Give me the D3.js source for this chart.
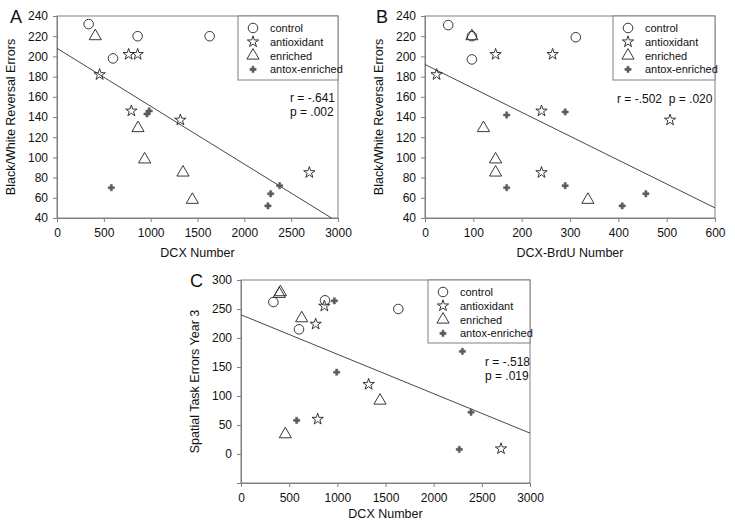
<!DOCTYPE html>
<html><head><meta charset="utf-8">
<script src="https://cdn.jsdelivr.net/npm/d3@7"></script>
<style>body{margin:0;background:#fff;} svg{display:block;font-family:"Liberation Sans",Arial,sans-serif;}</style>
</head><body>
<svg id="chart" width="735" height="530"></svg>
<script>
// ---- data ----
const groups = ["control", "antioxidant", "enriched", "antox-enriched"];

// Panel A: DCX Number vs Black/White Reversal Errors
const ctrlA_x = [338, 861, 598, 1630], ctrlA_y = [232, 220, 198, 220];
const antiA_x = [765, 861, 455, 794, 1317, 2694], antiA_y = [202, 202, 182, 146, 137, 85];
const enrA_x = [409, 865, 936, 1345, 1445], enrA_y = [220, 129, 98, 85, 58];
const aeA_x = [580, 961, 984, 2377, 2281, 2252], aeA_y = [70, 143, 146, 72, 64, 52];
const fitA = [[0, 208], [2930, 40]];
const statsA = ["r = -.641", "p = .002"];

// Panel B: DCX-BrdU Number vs Black/White Reversal Errors
const ctrlB_x = [48, 97, 97, 312], ctrlB_y = [231, 220, 197, 219];
const antiB_x = [24, 146, 264, 241, 241, 507], antiB_y = [182, 202, 202, 146, 85, 137];
const enrB_x = [97, 121, 146, 146, 337], enrB_y = [220, 129, 98, 85, 58];
const aeB_x = [169, 290, 169, 290, 408, 457], aeB_y = [142, 145, 70, 72, 52, 64];
const fitB = [[0, 192], [600, 50]];
const statsB = ["r = -.502  p = .020"];

// Panel C: DCX Number vs Spatial Task Errors Year 3
const ctrlC_x = [336, 872, 602, 1633], ctrlC_y = [262, 265, 215, 250];
const antiC_x = [865, 775, 1325, 796, 2699], antiC_y = [255, 224, 120, 60, 9];
const enrC_x = [398, 409, 630, 1443, 460], enrC_y = [276, 279, 234, 92, 34];
const aeC_x = [969, 993, 578, 2298, 2388, 2266], aeC_y = [264, 141, 58, 177, 72, 8];
const fitC = [[0, 240], [3000, 36]];
const statsC = ["r = -.518", "p = .019"];

const ticksDCX = [0, 500, 1000, 1500, 2000, 2500, 3000];
const ticksBrdU = [0, 100, 200, 300, 400, 500, 600];
const ticksBW = [40, 60, 80, 100, 120, 140, 160, 180, 200, 220, 240];
const ticksSp = [0, 50, 100, 150, 200, 250, 300];

// ---- drawing ----
const svg = d3.select("#chart");
const frameColor = "#808080";

function zip(xs, ys) { return xs.map((v, i) => [v, ys[i]]); }

const symGen = {
  "control": d3.symbol().type(d3.symbolCircle).size(72),
  "antioxidant": d3.symbol().type(d3.symbolStar).size(40),
  "enriched": d3.symbol().type(d3.symbolTriangle).size(64),
  "antox-enriched": d3.symbol().type(d3.symbolCross).size(22)
};
function styleSym(sel, g) {
  if (g === "antox-enriched") sel.attr("fill", "#5a5a5a").attr("stroke", "#5a5a5a").attr("stroke-width", 0.5);
  else sel.attr("fill", "none").attr("stroke", "#222").attr("stroke-width", 0.9);
}

function panel(cfg) {
  const x = d3.scaleLinear().domain(cfg.xDomain).range([cfg.left, cfg.right]);
  const y = d3.scaleLinear().domain(cfg.yDomain).range([cfg.bottom, cfg.top]);
  const g = svg.append("g");

  // frame
  g.append("rect").attr("x", cfg.left).attr("y", cfg.top)
    .attr("width", cfg.right - cfg.left).attr("height", cfg.bottom - cfg.top)
    .attr("fill", "none").attr("stroke", frameColor).attr("stroke-width", 1);

  const xa = g.append("g").attr("transform", `translate(0,${cfg.bottom})`)
    .call(d3.axisBottom(x).tickValues(cfg.xTicks).tickSize(4).tickPadding(6).tickFormat(d3.format("d")));
  const ya = g.append("g").attr("transform", `translate(${cfg.left},0)`)
    .call(d3.axisLeft(y).tickValues(cfg.yTicks).tickSize(4).tickPadding(5).tickFormat(d3.format("d")));
  [xa, ya].forEach(a => {
    a.select(".domain").attr("stroke", frameColor);
    a.selectAll(".tick line").attr("stroke", frameColor);
    a.selectAll("text").attr("font-size", 12).attr("fill", "#111")
      .attr("font-family", "'Liberation Sans',Arial,sans-serif");
  });

  // axis titles
  g.append("text").attr("x", (cfg.left + cfg.right) / 2).attr("y", cfg.bottom + cfg.xLabOff)
    .attr("text-anchor", "middle").attr("font-size", 12.5).attr("fill", "#111").text(cfg.xLabel);
  g.append("text").attr("transform", `translate(${cfg.left - 42},${(cfg.top + cfg.bottom) / 2}) rotate(-90)`)
    .attr("text-anchor", "middle").attr("font-size", 12.5).attr("fill", "#111").text(cfg.yLabel);

  // panel letter
  g.append("text").attr("x", cfg.letterX).attr("y", cfg.top + 7)
    .attr("font-size", 18).attr("fill", "#111").text(cfg.letter);

  // regression line
  g.append("line")
    .attr("x1", x(cfg.fit[0][0])).attr("y1", y(cfg.fit[0][1]))
    .attr("x2", x(cfg.fit[1][0])).attr("y2", y(cfg.fit[1][1]))
    .attr("stroke", "#333").attr("stroke-width", 0.9);

  // points
  cfg.series.forEach((pts, i) => {
    const gname = groups[i];
    const sel = g.append("g").selectAll("path").data(pts).join("path")
      .attr("transform", d => `translate(${x(d[0])},${y(d[1])})`)
      .attr("d", symGen[gname]());
    styleSym(sel, gname);
  });

  // stats text
  cfg.stats.forEach((s, i) => {
    g.append("text").attr("x", cfg.statX).attr("y", cfg.statY + i * 13.5)
      .attr("font-size", 12).attr("fill", "#111").attr("xml:space", "preserve")
      .style("white-space", "pre").text(s);
  });

  // legend
  const lg = g.append("g");
  lg.append("rect").attr("x", cfg.legX).attr("y", cfg.top)
    .attr("width", cfg.right - cfg.legX).attr("height", cfg.legH)
    .attr("fill", "#fff").attr("stroke", frameColor).attr("stroke-width", 1);
  groups.forEach((gname, i) => {
    const yy = cfg.top + 12 + i * 13.8;
    const p = lg.append("path").attr("transform", `translate(${cfg.legX + 15},${yy})`)
      .attr("d", symGen[gname]());
    styleSym(p, gname);
    lg.append("text").attr("x", cfg.legX + 32).attr("y", yy + 4)
      .attr("font-size", 11).attr("fill", "#111").text(gname);
  });
}

panel({
  letter: "A", letterX: 10,
  left: 57, right: 338, top: 16, bottom: 218,
  xDomain: [0, 3000], yDomain: [40, 240], xTicks: ticksDCX, yTicks: ticksBW,
  xLabel: "DCX Number", yLabel: "Black/White Reversal Errors", xLabOff: 39,
  fit: fitA, stats: statsA, statX: 290, statY: 102,
  legX: 238, legH: 64,
  series: [zip(ctrlA_x, ctrlA_y), zip(antiA_x, antiA_y), zip(enrA_x, enrA_y), zip(aeA_x, aeA_y)]
});
panel({
  letter: "B", letterX: 376,
  left: 425, right: 715, top: 16, bottom: 218,
  xDomain: [0, 600], yDomain: [40, 240], xTicks: ticksBrdU, yTicks: ticksBW,
  xLabel: "DCX-BrdU Number", yLabel: "Black/White Reversal Errors", xLabOff: 39,
  fit: fitB, stats: statsB, statX: 617, statY: 103,
  legX: 613, legH: 64,
  series: [zip(ctrlB_x, ctrlB_y), zip(antiB_x, antiB_y), zip(enrB_x, enrB_y), zip(aeB_x, aeB_y)]
});
panel({
  letter: "C", letterX: 190,
  left: 241, right: 530, top: 280, bottom: 483,
  xDomain: [0, 3000], yDomain: [-50, 300], xTicks: ticksDCX, yTicks: ticksSp,
  xLabel: "DCX Number", yLabel: "Spatial Task Errors Year 3", xLabOff: 35,
  fit: fitC, stats: statsC, statX: 485, statY: 366,
  legX: 428, legH: 63,
  series: [zip(ctrlC_x, ctrlC_y), zip(antiC_x, antiC_y), zip(enrC_x, enrC_y), zip(aeC_x, aeC_y)]
});
</script>
</body></html>
